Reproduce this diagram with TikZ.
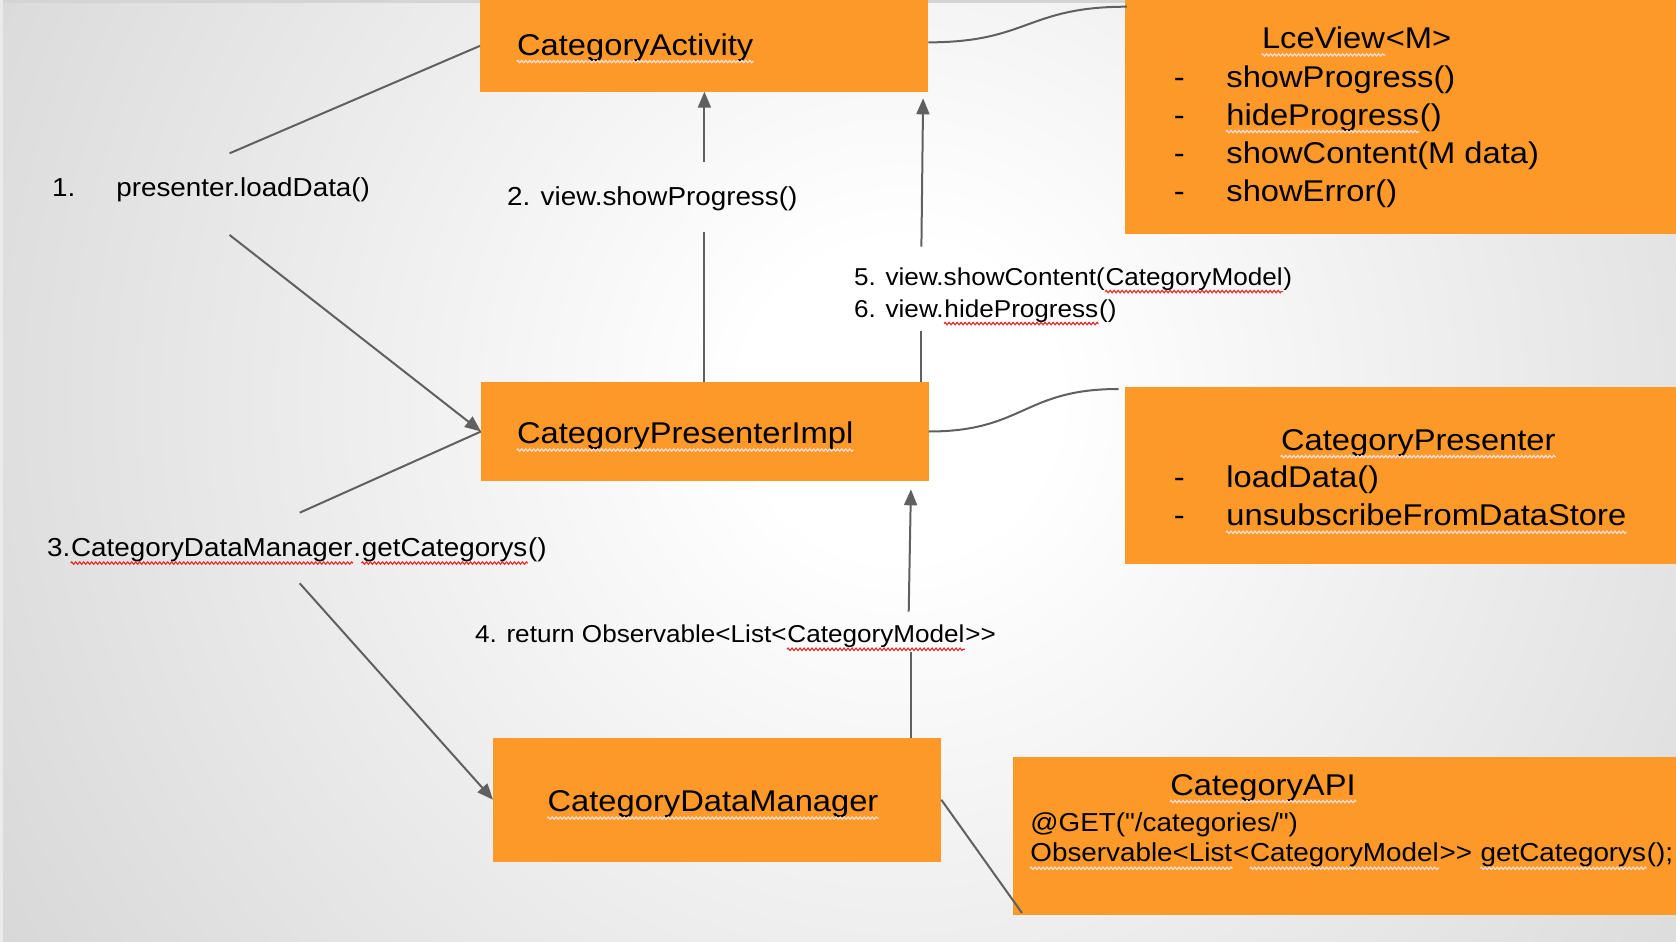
\documentclass[tikz,border=0pt]{standalone}
\usepackage{fontspec}
\setmainfont{Liberation Sans}
\newfontfamily\bigf{Liberation Sans}[FakeStretch=1.09]
\newfontfamily\labf{Liberation Sans}[FakeStretch=1.07]
\usetikzlibrary{arrows.meta,decorations.pathmorphing}
\definecolor{boxorange}{RGB}{252,153,41}
\definecolor{linegray}{RGB}{96,96,96}
\definecolor{bggray}{RGB}{195,195,195}
\definecolor{wavin}{RGB}{255,220,215}
\definecolor{wavout}{RGB}{228,50,50}
\pgfdeclareradialshading{bgshade}{\pgfpoint{0bp}{0bp}}{rgb(0bp)=(1,1,1); rgb(2.6bp)=(1,1,1); rgb(23.6bp)=(0.784,0.784,0.784); rgb(50bp)=(0.51,0.51,0.51)}
\newcommand\bigfont{\bigf\fontsize{15pt}{18pt}\selectfont}
\newcommand\labfont{\labf\fontsize{13pt}{16pt}\selectfont}
\newcommand\labsfont{\labf\fontsize{12.2pt}{15pt}\selectfont}
\tikzset{
 box/.style={fill=boxorange, inner sep=0pt, outer sep=0pt, anchor=north west},
 bigtxt/.style={font=\bigfont, anchor=base west, inner sep=0pt, text=black},
 labtxt/.style={font=\labfont, anchor=base west, inner sep=0pt, text=black},
 labstxt/.style={font=\labsfont, anchor=base west, inner sep=0pt, text=black},
 conn/.style={draw=linegray, line width=1pt},
 arr/.style={conn, -{Triangle[length=8pt,width=6.5pt]}},
 spellwave/.style={line width=0.6pt, decorate, decoration={zigzag, segment length=2pt, amplitude=0.6pt}},
}
\newcommand\sq[2]{\draw[spellwave,#2] ([yshift=-3.3pt]#1.base west) -- ([yshift=-3.3pt]#1.base east);}
\begin{document}
\begin{tikzpicture}[x=0.5pt,y=-0.5pt]
\useasboundingbox (0,0) rectangle (1676,942);
\fill[bggray] (0,0) rectangle (1676,942);
\begin{scope}
\clip (0,0) rectangle (1676,942);
\shade[shading=bgshade] (900,400) circle (1500);
\end{scope}
\fill[black!17] (0,0) rectangle (1676,2.5);
\fill[black!8] (0,0) rectangle (2.5,942);
% boxes
\node[box, minimum width=224.15pt, minimum height=45.85pt] (ca) at (480,0) {};
\node[box, minimum width=275.6pt, minimum height=117.15pt] (lce) at (1124.8,0) {};
\node[box, minimum width=223.85pt, minimum height=49.2pt] (cpi) at (481,382.3) {};
\node[box, minimum width=275.5pt, minimum height=88.8pt] (cp) at (1125,386.7) {};
\node[box, minimum width=224.15pt, minimum height=62pt] (cdm) at (493,737.7) {};
\node[box, minimum width=331.3pt, minimum height=78.7pt] (capi) at (1013.4,757.3) {};
% box texts
\node[bigtxt] (catext) at (516.7,55) {CategoryActivity};
\node[bigtxt] (lcet) at (1261.6,48.3) {LceView};
\node[bigtxt] (lcet2) at (lcet.base east) {<M>};
\node[bigtxt] (lced1) at (1173.5,87.3) {-};
\node[bigtxt] (lce1) at (1226,87.3) {showProgress()};
\node[bigtxt] (lced2) at (1173.5,125) {-};
\node[bigtxt] (lce2) at (1226,125) {hideProgress};
\node[bigtxt] (lce2b) at (lce2.base east) {()};
\node[bigtxt] (lced3) at (1173.5,163.3) {-};
\node[bigtxt] (lce3) at (1226,163.3) {showContent(M data)};
\node[bigtxt] (lced4) at (1173.5,201.7) {-};
\node[bigtxt] (lce4) at (1226,201.7) {showError()};
\node[bigtxt] (cpitext) at (516.7,443.5) {CategoryPresenterImpl};
\node[bigtxt] (cpt) at (1280.7,450) {CategoryPresenter};
\node[bigtxt] (cpd1) at (1173.5,487.7) {-};
\node[bigtxt] (cp1) at (1226,487.7) {loadData()};
\node[bigtxt] (cpd2) at (1173.5,525.7) {-};
\node[bigtxt] (cp2) at (1226,525.7) {unsubscribeFromDataStore};
\node[bigtxt] (cdmtext) at (547.2,811.5) {CategoryDataManager};
\node[bigtxt] (capit) at (1169.9,795) {CategoryAPI};
\node[labtxt] (capi1) at (1030,831.7) {@GET("/categories/")};
\node[labtxt] (capi2a) at (1030,861.7) {Observable<List};
\node[labtxt] (capi2b) at (capi2a.base east) {<};
\node[labtxt] (capi2c) at (capi2b.base east) {CategoryModel};
\node[labtxt] (capi2d) at (capi2c.base east) {>>};
\node[labtxt] (capi2e) at ([xshift=3.9pt]capi2d.base east) {getCategorys};
\node[labtxt] (capi2f) at (capi2e.base east) {();};
% labels
\node[labtxt] (l1) at (51.8,196.7) {\makebox[32.1pt][l]{1.}presenter.loadData()};
\node[labtxt] (l2) at (506.8,205) {2. view.showProgress()};
\node[labstxt] (l5) at (853.8,285) {5. view.showContent(};
\node[labstxt] (l5w) at (l5.base east) {CategoryModel};
\node[labstxt] (l5e) at (l5w.base east) {)};
\node[labstxt] (l6) at (853.8,317) {6. view.};
\node[labstxt] (l6w) at (l6.base east) {hideProgress};
\node[labstxt] (l6e) at (l6w.base east) {()};
\node[labtxt] (l3) at (46.7,556.5) {3.};
\node[labtxt] (l3w) at (l3.base east) {CategoryDataManager};
\node[labtxt] (l3d) at (l3w.base east) {.};
\node[labtxt] (l3x) at (l3d.base east) {getCategorys};
\node[labtxt] (l3e) at (l3x.base east) {()};
\node[labstxt] (l4) at (474.7,642.7) {4. return Observable<List<};
\node[labstxt] (l4w) at (l4.base east) {CategoryModel};
\node[labstxt] (l4e) at (l4w.base east) {>>};
% free ends
\coordinate (l1up) at (229.6,153.3);
\coordinate (l1dn) at (229.6,235);
\coordinate (l3up) at (299.7,512.7);
\coordinate (l3dn) at (299.7,583.3);
\coordinate (v2lo) at (704.4,231.7);
\coordinate (v2hi) at (704.4,161.7);
\coordinate (v5lo) at (920.7,331.4);
\coordinate (v5hi) at (921.4,246.7);
\coordinate (v5tip) at (923.1,98.3);
\coordinate (v4lo) at (910.7,651.7);
\coordinate (v4hi) at (908.7,611.7);
\coordinate (v4tip) at (910.9,489.3);
% connectors
\draw[conn] (l1up) -- (ca.west);
\draw[arr] (l1dn) -- (cpi.west);
\draw[conn] (l3up) -- (cpi.west);
\draw[arr] (l3dn) -- (cdm.west);
\draw[conn] (v2lo |- cpi.north) -- (v2lo);
\draw[arr] (v2hi) -- (v2hi |- ca.south);
\draw[conn] (v5lo |- cpi.north) -- (v5lo);
\draw[arr] (v5hi) -- (v5tip);
\draw[conn] (v4lo |- cdm.north) -- (v4lo);
\draw[arr] (v4hi) -- (v4tip);
\draw[conn] ([yshift=1.75pt]ca.east) .. controls +(100,0) and +(-100,0) .. ([xshift=1pt,yshift=-3.35pt]lce.north west);
\draw[conn] (cpi.east) .. controls +(95,0) and +(-95,0) .. ([xshift=-3.25pt,yshift=-1.15pt]cp.north west);
\draw[conn] (cdm.east) -- ([xshift=4.3pt,yshift=0.85pt]capi.south west);
% spell-check underlines
\sq{catext}{wavin}
\sq{lcet}{wavin}
\sq{lce2}{wavin}
\sq{cpitext}{wavin}
\sq{cpt}{wavin}
\sq{cp2}{wavin}
\sq{cdmtext}{wavin}
\sq{capit}{wavin}
\sq{capi2a}{wavin}
\sq{capi2c}{wavin}
\sq{capi2e}{wavin}
\sq{l5w}{wavout}
\sq{l6w}{wavout}
\sq{l3w}{wavout}
\sq{l3x}{wavout}
\sq{l4w}{wavout}
\end{tikzpicture}
\end{document}
